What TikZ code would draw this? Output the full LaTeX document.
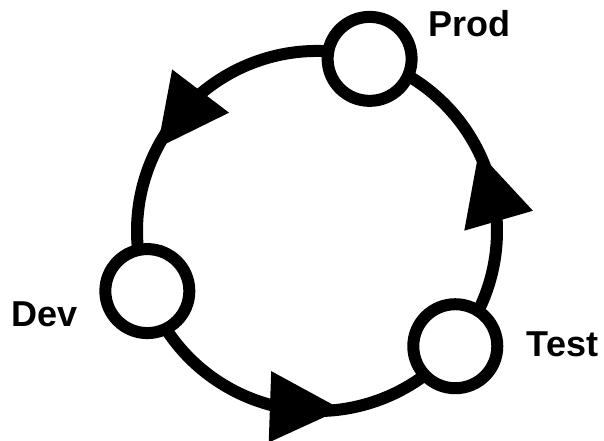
\documentclass[tikz,border=0pt]{standalone}
\usepackage{fontspec}
\setmainfont{Liberation Sans}
\usetikzlibrary{arrows.meta,decorations.markings,backgrounds}
\tikzset{stage/.style={circle,draw=black,fill=white,line width=12pt,
minimum size=84pt,inner sep=0pt},
tag/.style={font=\fontsize{36}{40}\selectfont\bfseries,anchor=base,inner sep=0pt},
link/.style={line width=12pt,postaction={decorate},
decoration={markings,mark=at position #1 with
{\pgftransformrotate{-10}\arrow{Triangle[length=72pt,width=68pt]}}}},
link/.default=0.6}

\begin{document}
\begin{tikzpicture}[x=1pt,y=1pt]
\useasboundingbox (0,0) rectangle (604,440);
\coordinate (hub) at (317,209);
\node[stage] (prod) at ([shift={(73:180)}]hub) {};
\node[stage] (dev) at ([shift={(199.5:180)}]hub) {};
\node[stage] (test) at ([shift={(320.2:180)}]hub) {};
\node[tag] (prodtag) at (469,403.3) {Prod};
\node[tag] (devtag) at (45,113.3) {Dev};
\node[tag] (testtag) at (562.5,83.3) {Test};
\begin{scope}[on background layer]
\draw[link=0.65](dev.center) arc[start angle=199.5,end angle=320.2,radius=180];
\draw[link=0.585](test.center) arc[start angle=320.2,end angle=433,radius=180];
\draw[link=0.63](prod.center) arc[start angle=73,end angle=199.5,radius=180];
\end{scope}
\end{tikzpicture}
\end{document}
